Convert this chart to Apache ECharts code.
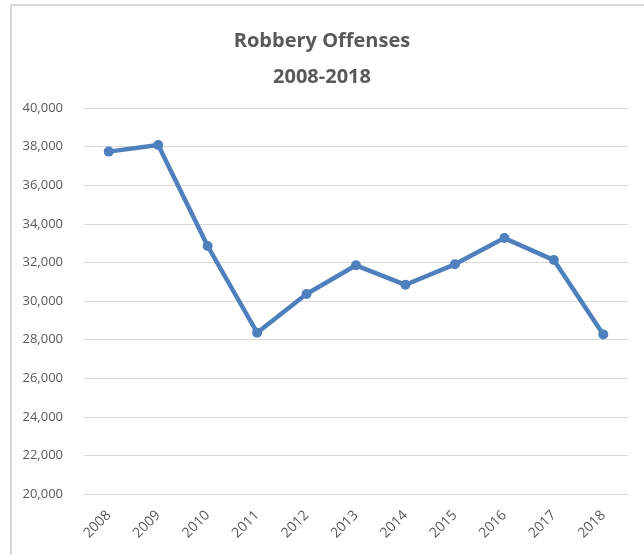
<!DOCTYPE html>
<html>
<head>
<meta charset="utf-8">
<script src="https://cdn.jsdelivr.net/npm/echarts@6/dist/echarts.min.js"></script>
<style>
  html, body { margin: 0; padding: 0; background: #fff; }
  #chart { width: 644px; height: 555px; }
</style>
</head>
<body>
<div id="chart"></div>
<script>
// robbery offenses by year
var years = ['2008', '2009', '2010', '2011', '2012', '2013', '2014', '2015', '2016', '2017', '2018']
var offenses = [37740, 38080, 32850, 28360, 30360, 31850, 30840, 31900, 33260, 32120, 28270]
var yMin = 20000
var yMax = 40000
var yStep = 2000

var chart = echarts.init(document.getElementById('chart'))
chart.setOption({
  animation: false,
  textStyle: { fontFamily: 'Open Sans' },
  title: {
    text: 'Robbery Offenses\n2008-2018',
    left: 'center',
    top: 18,
    textStyle: {
      color: '#595959',
      fontSize: 20,
      fontWeight: 'bold',
      lineHeight: 36
    }
  },
  graphic: [{
    type: 'rect',
    shape: { x: 11, y: 5, width: 650, height: 560 },
    style: { fill: 'none', stroke: '#d9d9d9', lineWidth: 2 },
    silent: true
  }],
  grid: {
    left: 84,
    right: 16,
    top: 108,
    bottom: 61,
    containLabel: false
  },
  xAxis: {
    type: 'category',
    data: years,
    boundaryGap: true,
    axisLine: { show: false },
    axisTick: { show: false },
    axisLabel: {
      rotate: 45,
      color: '#595959',
      fontSize: 14,
      margin: 19
    }
  },
  yAxis: {
    type: 'value',
    min: yMin,
    max: yMax,
    interval: yStep,
    axisLine: { show: false },
    axisTick: { show: false },
    axisLabel: {
      color: '#595959',
      fontSize: 13,
      margin: 21,
      formatter: function (v) {
        return v.toLocaleString('en-US')
      }
    },
    splitLine: { lineStyle: { color: '#d9d9d9', width: 1 } }
  },
  series: [{
    type: 'line',
    name: 'Robbery Offenses',
    data: offenses,
    symbol: 'circle',
    symbolSize: 10,
    itemStyle: { color: '#4e80bd' },
    lineStyle: { color: '#4e80bd', width: 4.5 }
  }]
})
</script>
</body>
</html>
